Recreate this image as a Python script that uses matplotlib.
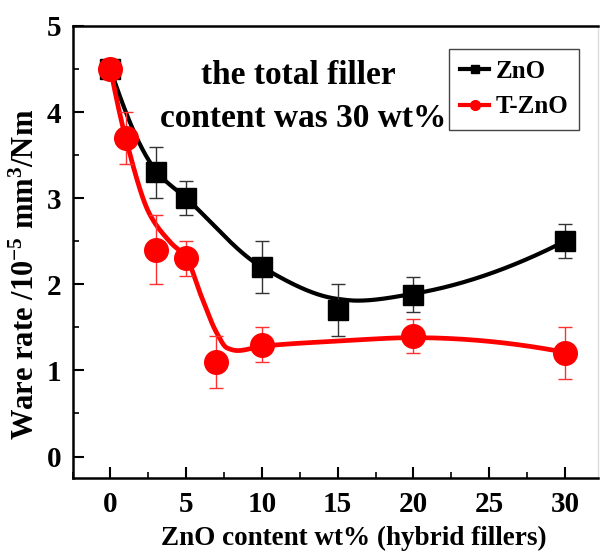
import numpy as np
import matplotlib
matplotlib.use("Agg")
import matplotlib.pyplot as plt
from matplotlib.ticker import MultipleLocator

plt.rcParams['font.family'] = ['Liberation Serif', 'DejaVu Serif']
plt.rcParams['font.weight'] = 'bold'
plt.rcParams['mathtext.fontset'] = 'custom'
plt.rcParams['mathtext.rm'] = 'Liberation Serif:bold'
plt.rcParams['mathtext.bf'] = 'Liberation Serif:bold'
plt.rcParams['mathtext.it'] = 'Liberation Serif:bold'
plt.rcParams['mathtext.default'] = 'bf'

# ---- data ----
zno_x = [0, 3, 5, 10, 15, 20, 30]
zno_y = [4.5, 3.3, 3.0, 2.2, 1.7, 1.88, 2.5]
zno_err = [0.05, 0.3, 0.2, 0.3, 0.3, 0.2, 0.2]

tzno_x = [0, 1, 3, 5, 7, 10, 20, 30]
tzno_y = [4.5, 3.7, 2.4, 2.3, 1.1, 1.3, 1.4, 1.2]
tzno_err = [0.05, 0.3, 0.4, 0.2, 0.3, 0.2, 0.2, 0.3]

# fitted (smoothed) guide curves, knots
zno_fit_x = [0, 3, 5, 10, 15, 16.3, 20, 30]
zno_fit_y = [4.5, 3.32, 3.0, 2.2, 1.83, 1.81, 1.89, 2.5]
tzno_fit_x = [0, 1, 2.6, 4, 5, 6, 7, 7.7, 8.4, 10, 15, 20, 30]
tzno_fit_y = [4.5, 3.7, 2.81, 2.48, 2.31, 1.86, 1.44, 1.26, 1.23, 1.28, 1.34, 1.38, 1.21]

xticks = [0, 5, 10, 15, 20, 25, 30]
yticks = [0, 1, 2, 3, 4, 5]


def pchip(x, y, xs):
    x = np.asarray(x, float); y = np.asarray(y, float)
    h = np.diff(x); d = np.diff(y) / h
    n = len(x)
    m = np.zeros(n)
    for k in range(1, n - 1):
        if d[k - 1] * d[k] > 0:
            w1 = 2 * h[k] + h[k - 1]
            w2 = h[k] + 2 * h[k - 1]
            m[k] = (w1 + w2) / (w1 / d[k - 1] + w2 / d[k])
    def endslope(h0, h1, d0, d1):
        s = ((2 * h0 + h1) * d0 - h0 * d1) / (h0 + h1)
        if np.sign(s) != np.sign(d0):
            s = 0.0
        elif np.sign(d0) != np.sign(d1) and abs(s) > abs(3 * d0):
            s = 3 * d0
        return s
    m[0] = endslope(h[0], h[1], d[0], d[1])
    m[-1] = endslope(h[-1], h[-2], d[-1], d[-2])
    xs = np.asarray(xs, float)
    idx = np.clip(np.searchsorted(x, xs) - 1, 0, n - 2)
    t = (xs - x[idx]) / h[idx]
    h00 = 2 * t**3 - 3 * t**2 + 1
    h10 = t**3 - 2 * t**2 + t
    h01 = -2 * t**3 + 3 * t**2
    h11 = t**3 - t**2
    return h00 * y[idx] + h10 * h[idx] * m[idx] + h01 * y[idx + 1] + h11 * h[idx] * m[idx + 1]


fig = plt.figure(figsize=(6.0, 5.52), dpi=100)
ax = fig.add_axes([0.121, 0.134, 0.876, 0.819])

xs1 = np.linspace(zno_fit_x[0], zno_fit_x[-1], 400)
xs2 = np.linspace(tzno_fit_x[0], tzno_fit_x[-1], 400)
ax.plot(xs1, pchip(zno_fit_x, zno_fit_y, xs1), color='black', lw=3.0, zorder=2)
ax.plot(xs2, pchip(tzno_fit_x, tzno_fit_y, xs2), color='#ff0000', lw=3.4, zorder=2)

ax.errorbar(zno_x, zno_y, yerr=zno_err, fmt='none', ecolor='#333333',
            elinewidth=1.0, capsize=5, capthick=1.0, zorder=3)
ax.errorbar(tzno_x, tzno_y, yerr=tzno_err, fmt='none', ecolor='#ff3030',
            elinewidth=1.0, capsize=5, capthick=1.0, zorder=3)
ax.plot(zno_x, zno_y, 's', color='black', ms=15, zorder=4)
ax.plot(tzno_x, tzno_y, 'o', color='#ff0000', ms=17, zorder=5)

# legend handles
h1, = ax.plot([], [], color='black', lw=3, marker='s', ms=6, label='ZnO')
h2, = ax.plot([], [], color='#ff0000', lw=3, marker='o', ms=7, label='T-ZnO')
leg = ax.legend(handles=[h1, h2], loc='upper right', bbox_to_anchor=(0.964, 0.95),
                fancybox=False, frameon=True, edgecolor='#444444', framealpha=1,
                handlelength=1.15, handletextpad=0.25, borderpad=0.45, labelspacing=0.5,
                borderaxespad=0.0,
                prop={'family': 'Liberation Serif', 'weight': 'bold', 'size': 18})
leg.get_frame().set_linewidth(1.0)

ax.text(12.4, 4.43, 'the total filler', ha='center', va='center', fontsize=24, fontweight='bold')
ax.text(12.7, 3.93, 'content was 30 wt%', ha='center', va='center', fontsize=24, fontweight='bold')

ax.set_xlim(-2.5, 32.2)
ax.set_ylim(-0.25, 5.0)
ax.set_xticks(xticks)
ax.set_yticks(yticks)
ax.xaxis.set_minor_locator(MultipleLocator(2.5))
ax.yaxis.set_minor_locator(MultipleLocator(0.5))
ax.tick_params(which='major', direction='in', length=8, width=1.5, labelsize=21)
ax.tick_params(axis='x', which='major', pad=9)
ax.tick_params(axis='y', which='major', pad=8)
ax.tick_params(which='minor', direction='in', length=4, width=1.2)
ax.tick_params(top=False, right=False, which='both')
for lab in ax.get_xticklabels() + ax.get_yticklabels():
    lab.set_fontweight('bold')

for s in ['left', 'bottom', 'top']:
    ax.spines[s].set_linewidth(1.8)
ax.spines['right'].set_linewidth(1.0)
ax.spines['right'].set_color('#dddddd')

ax.set_xlabel('ZnO content wt% (hybrid fillers)', fontsize=19.5, fontweight='bold', labelpad=6)
ax.set_ylabel(r'Ware rate /10$^{-5}$ mm$^{3}$/Nm', fontsize=22, fontweight='bold', labelpad=4)
ax.xaxis.label.set_x(0.535)
ax.yaxis.label.set_y(0.451)

fig.savefig('out.png', dpi=100)
